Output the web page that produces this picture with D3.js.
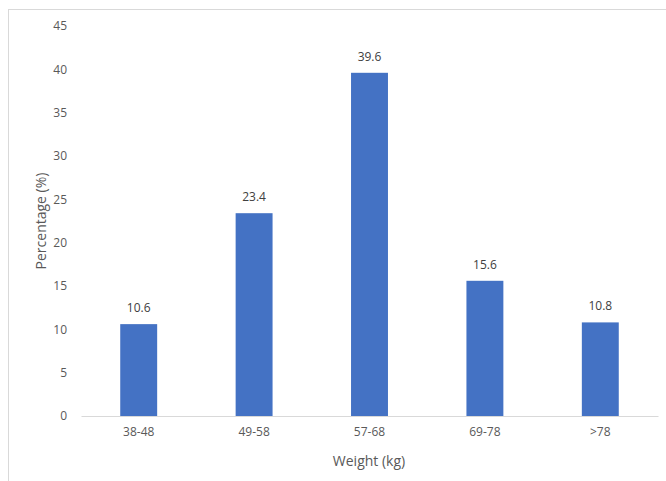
<!DOCTYPE html>
<html><head><meta charset="utf-8">
<script src="https://cdn.jsdelivr.net/npm/d3@7/dist/d3.min.js"></script>
<style>body{margin:0;background:#fff}svg{display:block}text{font-family:"Open Sans",sans-serif}</style>
</head><body>
<svg id="c" width="666" height="481"></svg>
<script>
const categories = ["38-48","49-58","57-68","69-78",">78"];
const values = [10.6,23.4,39.6,15.6,10.8];
const yTicks = [0,5,10,15,20,25,30,35,40,45];

const svg = d3.select("#c");
svg.append("rect").attr("x",8.5).attr("y",9.5).attr("width",700).attr("height",500)
  .attr("fill","#fff").attr("stroke","#d9d9d9");

const x = d3.scaleBand().domain(categories).range([81,658]).paddingInner(0.68).paddingOuter(0.34);
const y = d3.scaleLinear().domain([0,45]).range([416,26]);

const yAxis = svg.append("g").attr("transform","translate(81,0)")
  .call(d3.axisLeft(y).tickValues(yTicks).tickSize(0).tickPadding(14));
yAxis.select(".domain").remove();
yAxis.selectAll("text").attr("fill","#595959").style("font-size","12px");

svg.selectAll("rect.bar").data(values).enter().append("rect").attr("class","bar")
  .attr("x",(d,i)=>x(categories[i])).attr("width",x.bandwidth())
  .attr("y",d=>y(d)).attr("height",d=>y(0)-y(d)).attr("fill","#4472c4");

const xAxis = svg.append("g").attr("transform","translate(0,416)")
  .call(d3.axisBottom(x).tickSize(0).tickPadding(11));
xAxis.select(".domain").attr("stroke","#d9d9d9");
xAxis.selectAll("text").attr("fill","#595959").style("font-size","12px");

svg.selectAll("text.lbl").data(values).enter().append("text").attr("class","lbl")
  .attr("x",(d,i)=>x(categories[i])+x.bandwidth()/2).attr("y",d=>y(d)-12)
  .attr("text-anchor","middle").attr("fill","#404040").style("font-size","12px")
  .text(d=>d.toFixed(1));

svg.append("text").attr("transform","translate(46,221) rotate(-90)")
  .attr("text-anchor","middle").attr("fill","#595959").style("font-size","14px").text("Percentage (%)");
svg.append("text").attr("x",369).attr("y",466).attr("text-anchor","middle")
  .attr("fill","#595959").style("font-size","14px").text("Weight (kg)");
</script>
</body></html>
